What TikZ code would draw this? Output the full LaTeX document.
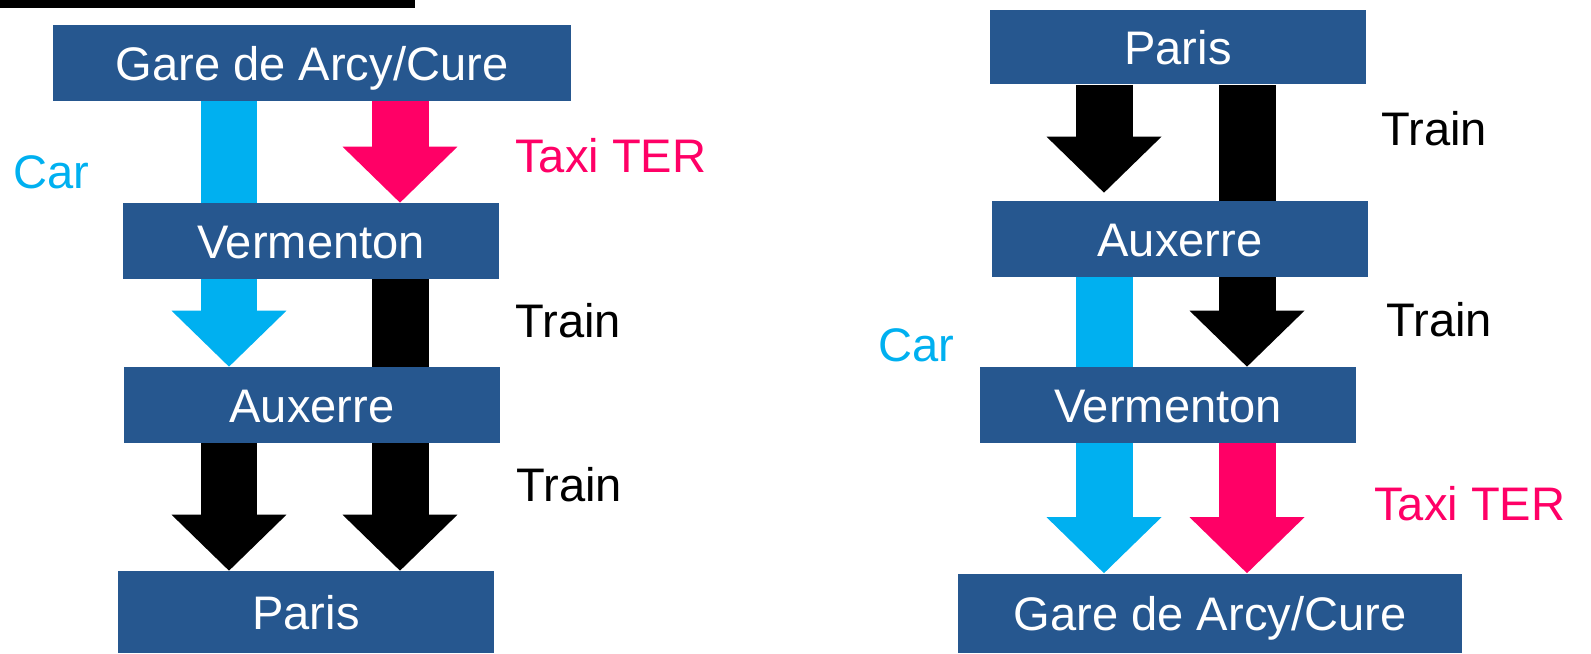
\documentclass[tikz,border=0pt]{standalone}
\usepackage{fontspec}
\setmainfont{Liberation Sans}
\usetikzlibrary{arrows.meta}
\definecolor{boxblue}{RGB}{38,87,143}
\definecolor{carblue}{RGB}{0,176,240}
\definecolor{taxipink}{RGB}{255,0,102}
\tikzset{
  stop/.style={fill=boxblue, text=white, inner sep=0pt, minimum width=7.52cm, minimum height=1.52cm,
    text height=0.68cm, text depth=0pt, font=\fontsize{26.8}{31}\selectfont},
  mode/.style={anchor=base west, inner sep=0pt, font=\fontsize{26.8}{31}\selectfont},
  shaft/.style={line width=1.14cm},
  flow/.style={shaft, -{Triangle[width=2.3cm,length=1.12cm,line width=0pt]}},
}
\begin{document}
\begin{tikzpicture}[x=0.02cm,y=-0.02cm]
    \useasboundingbox (0,0) rectangle (1591,653);
    \fill (0,0) rectangle (415,8);
    \node[stop, minimum width=10.36cm] (gareL) at (312,63) {Gare de Arcy/Cure};
    \node[stop] (vermL) at (311,241) {Vermenton};
    \node[stop] (auxL) at (312,405) {Auxerre};
    \node[stop, minimum height=1.64cm] (parisL) at (306,612) {Paris};
    \node[stop, minimum height=1.5cm] (parisR) at (1178,47) {Paris};
    \node[stop] (auxR) at (1180,239) {Auxerre};
    \node[stop] (vermR) at (1168,405) {Vermenton};
    \node[stop, minimum width=10.1cm, minimum height=1.58cm] (gareR) at (1210,613) {Gare de Arcy/Cure};
    \coordinate (lA) at (229,0);
    \coordinate (lB) at (400,0);
    \coordinate (rA) at (1104,0);
    \coordinate (rB) at (1247,0);
    \path (auxR.north -| rA) ++(0,-8) coordinate (tipA);
    \draw[shaft, carblue] (gareL.south -| lA) -- (vermL.north -| lA);
    \draw[flow, taxipink] (gareL.south -| lB) -- (vermL.north -| lB);
    \draw[flow, carblue] (vermL.south -| lA) -- (auxL.north -| lA);
    \draw[shaft] (vermL.south -| lB) -- (auxL.north -| lB);
    \draw[flow] (auxL.south -| lA) -- (parisL.north -| lA);
    \draw[flow] (auxL.south -| lB) -- (parisL.north -| lB);
    \draw[flow] (parisR.south -| rA) -- (tipA);
    \draw[shaft] (parisR.south -| rB) -- (auxR.north -| rB);
    \draw[shaft, carblue] (auxR.south -| rA) -- (vermR.north -| rA);
    \draw[flow] (auxR.south -| rB) -- (vermR.north -| rB);
    \draw[flow, carblue] (vermR.south -| rA) -- (gareR.north -| rA);
    \draw[flow, taxipink] (vermR.south -| rB) -- (gareR.north -| rB);
    \node[mode, carblue] (carL) at (13,188) {Car};
    \node[mode, taxipink] (taxiL) at (515,172) {Taxi TER};
    \node[mode] (trainL1) at (515,337) {Train};
    \node[mode] (trainL2) at (516,501) {Train};
    \node[mode] (trainR1) at (1381,145) {Train};
    \node[mode] (trainR2) at (1386,336) {Train};
    \node[mode, carblue] (carR) at (878,361) {Car};
    \node[mode, taxipink] (taxiR) at (1374,520) {Taxi TER};
\end{tikzpicture}
\end{document}
